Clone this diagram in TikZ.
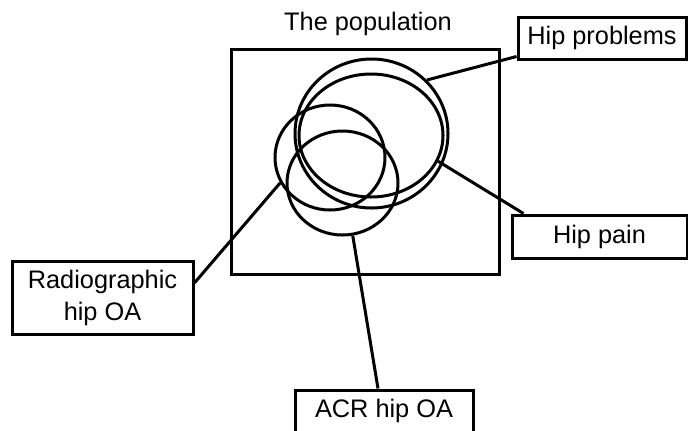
\documentclass[tikz,border=0pt]{standalone}
\usepackage{fontspec}
\setmainfont{Liberation Sans}
\usetikzlibrary{shapes.geometric}

\begin{document}
\begin{tikzpicture}[x=0.75pt, y=-0.75pt,
tagbox/.style={draw, line width=2.25pt, inner sep=0pt, align=center, font=\fontsize{19}{24}\selectfont},
ring/.style={draw, ellipse, line width=2.25pt, inner sep=0pt},
link/.style={line width=2.25pt}
]
\useasboundingbox (0,0) rectangle (688,430);

% population frame and its caption
\node[font=\fontsize{19}{24}\selectfont] (poptext) at (368,24) {The population};
\node[draw, line width=2.25pt, minimum width=201pt, minimum height=168.75pt] (pop) at (365,161.5) {};

% the four sets
\node[ring, minimum width=114.75pt, minimum height=111.75pt] (hprob) at (371.5,133.5) {};
\node[ring, minimum width=108pt, minimum height=92.25pt] (hpain) at (371,135.5) {};
\node[ring, minimum width=82.5pt, minimum height=78.75pt] (rad) at (330,157.5) {};
\node[ring, minimum width=83.25pt, minimum height=78pt] (acr) at (342.5,183) {};

% labels
\node[tagbox, minimum width=126pt, minimum height=31.5pt] (hprobbox) at (602,38) {Hip problems};
\node[tagbox, minimum width=131.25pt, minimum height=32.25pt] (hpainbox) at (599.5,236.5) {Hip pain};
\node[tagbox, minimum width=135.75pt, minimum height=54.75pt] (radbox) at (102.5,297.5) {Radiographic\\hip OA};
\node[tagbox, minimum width=133.5pt, minimum height=31.5pt] (acrbox) at (384,411) {ACR hip OA};

\draw[link] (hprob.44.5) -- ([yshift=3pt]hprobbox.south west);
\draw[link] (hpain.-21) -- ([xshift=9.75pt]hpainbox.north west);
\draw[link] (rad.207.5) -- ([yshift=11pt]radbox.east);
\draw[link] (acr.-79) -- ([xshift=-4.5pt]acrbox.north);
\end{tikzpicture}
\end{document}
